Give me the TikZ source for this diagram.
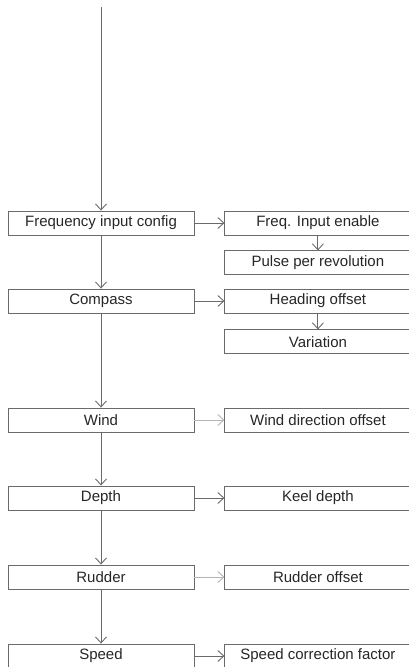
\documentclass[tikz,border=0pt]{standalone}
\usepackage{fontspec}
\setmainfont{Liberation Sans}
\usepackage{xcolor}
\usepackage{tikz}
\usetikzlibrary{arrows.meta,positioning}
\definecolor{linec}{HTML}{6A6A6A}
\definecolor{palec}{HTML}{B4B4B4}
\definecolor{textc}{HTML}{262626}
\tikzset{
  ar/.style={-{Straight Barb[length=6pt,width=11pt]},line width=0.9pt,linec},
  arpale/.style={ar,palec},
  box/.style={draw=linec,line width=0.9pt,minimum width=186pt,minimum height=24pt,inner sep=0pt,
    text=textc,font=\fontsize{15}{18}\selectfont}
}
\begin{document}
\begin{tikzpicture}[x=1pt,y=-1pt]
\useasboundingbox (0,0) rectangle (408,667);
\coordinate (top) at (101,7);
% left column
\node[box] (freq) at (101,223) {Frequency input config};
\node[box] (comp) at (101,301) {Compass};
\node[box] (wind) at (101,420) {Wind};
\node[box] (depth) at (101,498) {Depth};
\node[box] (rud) at (101,577) {Rudder};
\node[box] (speed) at (101,656) {Speed};
% right column
\node[box,right=30pt of freq] (fenab) {Freq. Input enable};
\node[box,below=15pt of fenab] (pulse) {Pulse per revolution};
\node[box,right=30pt of comp] (head) {Heading offset};
\node[box,below=16pt of head] (var) {Variation};
\node[box,right=30pt of wind] (wdir) {Wind direction offset};
\node[box,right=30pt of depth] (keel) {Keel depth};
\node[box,right=30pt of rud] (rudoff) {Rudder offset};
\node[box,right=30pt of speed] (scorr) {Speed correction factor};
% flow
\draw[ar] (top) -- (freq);
\draw[ar] (freq) -- (comp);
\draw[ar] (comp) -- (wind);
\draw[ar] (wind) -- (depth);
\draw[ar] (depth) -- (rud);
\draw[ar] (rud) -- (speed);
\draw[ar] (freq) -- (fenab);
\draw[ar] (fenab) -- (pulse);
\draw[ar] (comp) -- (head);
\draw[ar] (head) -- (var);
\draw[arpale] (wind) -- (wdir);
\draw[ar] (depth) -- (keel);
\draw[arpale] (rud) -- (rudoff);
\draw[ar] (speed) -- (scorr);
\end{tikzpicture}
\end{document}
